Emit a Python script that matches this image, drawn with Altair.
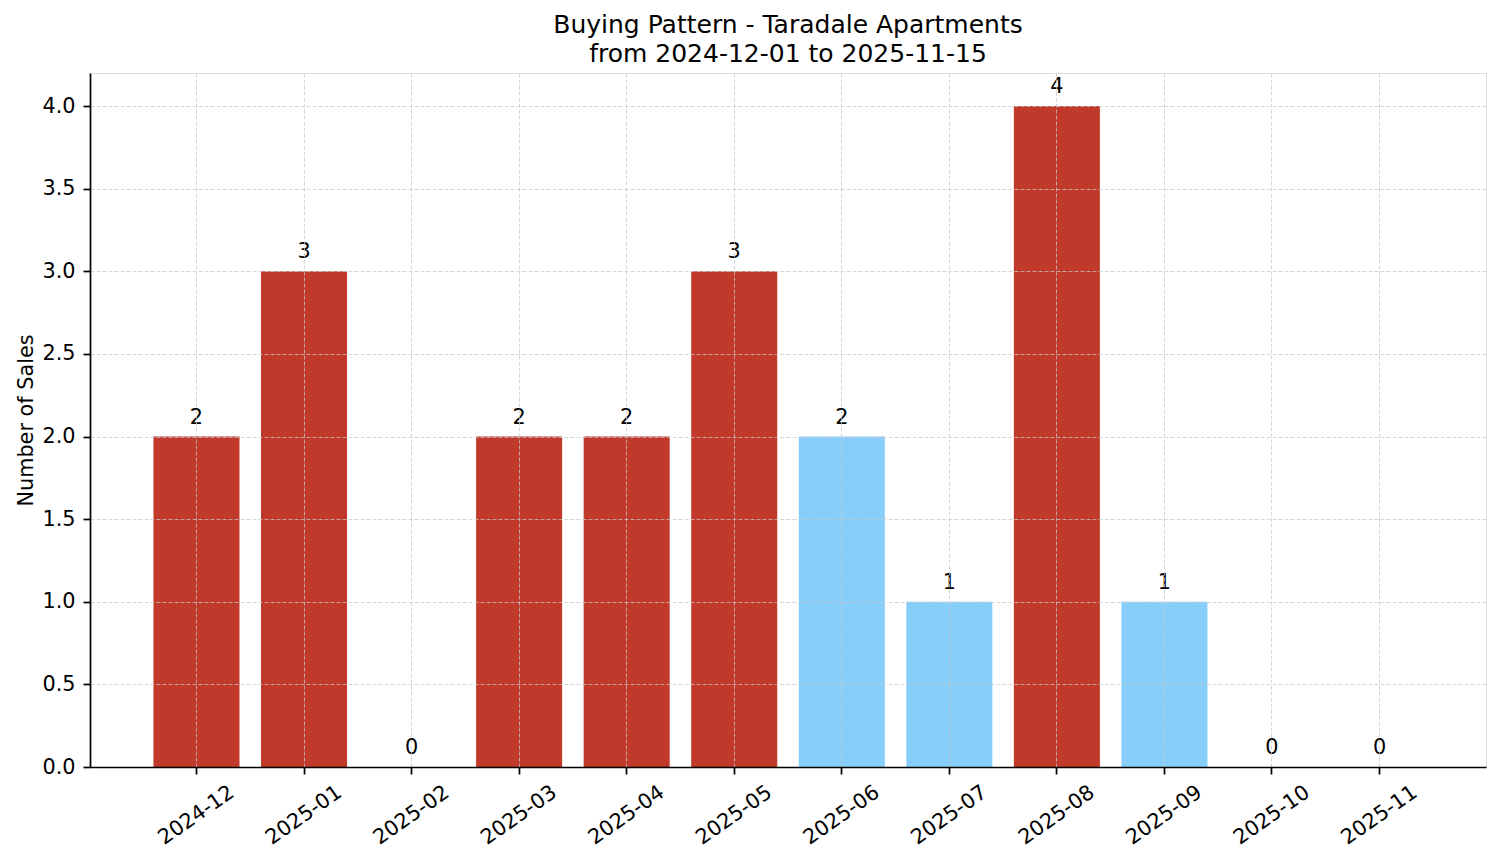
import altair as alt
import pandas as pd

months = ["2024-12", "2025-01", "2025-02", "2025-03", "2025-04", "2025-05",
          "2025-06", "2025-07", "2025-08", "2025-09", "2025-10", "2025-11"]
sales = [2, 3, 0, 2, 2, 3, 2, 1, 4, 1, 0, 0]
group = ["red", "red", "red", "red", "red", "red",
         "blue", "blue", "red", "blue", "red", "red"]
y_ticks = [0.0, 0.5, 1.0, 1.5, 2.0, 2.5, 3.0, 3.5, 4.0]

df = pd.DataFrame({"month": months, "sales": sales, "group": group})

FONT = "DejaVu Sans"

x_enc = alt.X(
    "month:N",
    sort=months,
    scale=alt.Scale(paddingInner=0.2, paddingOuter=0.59),
    axis=alt.Axis(
        title=None,
        labelAngle=-35,
        labelAlign="center",
        labelBaseline="middle",
        labelPadding=41,
        labelFontSize=20.8,
        labelFont=FONT,
        labelColor="black",
        tickSize=7,
        tickWidth=1.7,
        tickColor="black",
        domainColor="black",
        domainWidth=1.7,
        grid=True,
        bandPosition=0.5,
        gridColor="#c8c8c8",
        gridOpacity=0.75,
        gridDash=[4, 2],
        gridWidth=1,
        zindex=1,
    ),
)

y_enc = alt.Y(
    "sales:Q",
    scale=alt.Scale(domain=[0, 4.2], nice=False),
    axis=alt.Axis(
        title="Number of Sales",
        titleFont=FONT,
        titleFontSize=20.8,
        titleFontWeight="normal",
        titleColor="black",
        titleAngle=-90,
        titleBaseline="alphabetic",
        titleAlign="center",
        titleX=-58,
        titleY=347,
        values=y_ticks,
        format=".1f",
        labelFontSize=20.8,
        labelFont=FONT,
        labelColor="black",
        labelPadding=8,
        tickSize=7,
        tickWidth=1.7,
        tickColor="black",
        domainColor="black",
        domainWidth=1.7,
        grid=True,
        gridColor="#c8c8c8",
        gridOpacity=0.75,
        gridDash=[4, 2],
        gridWidth=1,
        zindex=1,
    ),
)

base = alt.Chart(df)

bars = base.mark_bar().encode(
    x=x_enc,
    y=y_enc,
    color=alt.Color(
        "group:N",
        scale=alt.Scale(domain=["red", "blue"], range=["#c0392b", "#87cefa"]),
        legend=None,
    ),
)

labels = base.mark_text(
    font=FONT, fontSize=20.8, color="black", baseline="alphabetic", dy=-13
).encode(
    x=alt.X("month:N", sort=months),
    y=alt.Y("sales:Q"),
    text=alt.Text("sales:Q"),
)

chart = (
    alt.layer(bars, labels)
    .properties(
        width=1396,
        height=694,
        autosize=alt.AutoSizeParams(type="none"),
        padding={"left": 82, "top": 65, "right": 7, "bottom": 88},
        title=alt.TitleParams(
            text=["Buying Pattern - Taradale Apartments", "from 2024-12-01 to 2025-11-15"],
            font=FONT,
            fontSize=25,
            fontWeight="normal",
            color="black",
            anchor="middle",
            baseline="alphabetic",
            lineHeight=29,
            offset=-14,
        ),
    )
    .configure_view(stroke=None)
    .configure(background="white")
)

chart.save("out.html", embed_options={"renderer": "svg", "actions": False})
